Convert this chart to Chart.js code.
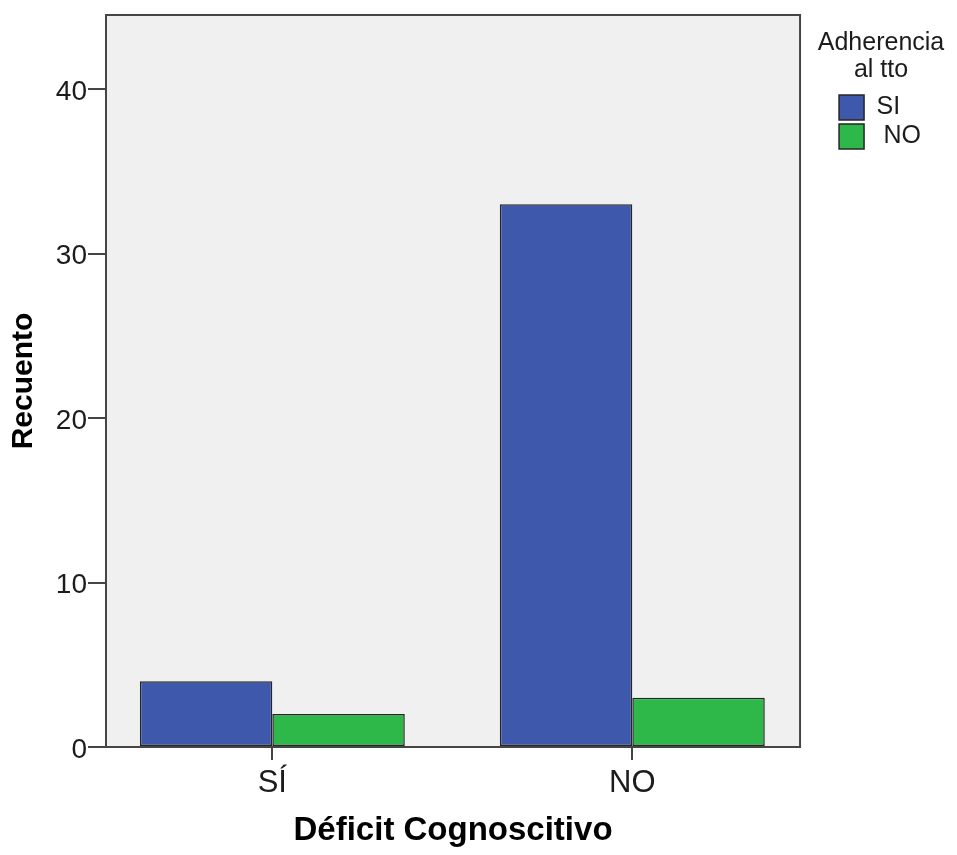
<!DOCTYPE html>
<html lang="es">
<head>
<meta charset="utf-8">
<title>Recuento por Déficit Cognoscitivo</title>
<script src="https://cdn.jsdelivr.net/npm/chart.js@4.4.1/dist/chart.umd.min.js"></script>
<style>
  html, body { margin: 0; padding: 0; background: #fff; }
  #wrap { width: 957px; height: 855px; }
</style>
</head>
<body>
<div id="wrap"><canvas id="grafico" width="957" height="855"></canvas></div>
<script>
// Categorías del eje X (Déficit Cognoscitivo)
const categorias = ['SÍ', 'NO'];
// Series (Adherencia al tto)
const tituloLeyenda = ['Adherencia', 'al tto'];
const nombresSeries = ['SI', ' NO'];
const recuentoAdhSI = [4, 33];
const recuentoAdhNO = [2, 3];
// Marcas del eje Y
const ticksY = [0, 10, 20, 30, 40];

const fuente = "'Liberation Sans', Arial, sans-serif";
const colorTexto = '#1c1c1c';
const colorEje = '#454545';

// Fondo gris del área de trazado, marco y título de la leyenda
// (el título se dibuja aparte porque la leyenda recorta lo que sale de su caja)
const marcoPlugin = {
    id: 'marco',
    beforeDraw(chart) {
        const { ctx, chartArea: a } = chart;
        ctx.save();
        ctx.fillStyle = '#f0f0f0';
        ctx.fillRect(a.left, a.top, a.right - a.left, a.bottom - a.top);
        ctx.restore();
    },
    afterDatasetsDraw(chart) {
        const { ctx, chartArea: a } = chart;
        ctx.save();
        ctx.strokeStyle = colorEje;
        ctx.lineWidth = 2;
        ctx.strokeRect(a.left, a.top, a.right - a.left, a.bottom - a.top);
        ctx.restore();
    },
    afterDraw(chart) {
        const { ctx, legend } = chart;
        const cx = legend.left + legend.width / 2 - 2;
        ctx.save();
        ctx.fillStyle = colorTexto;
        ctx.font = '25px ' + fuente;
        ctx.textAlign = 'center';
        ctx.textBaseline = 'middle';
        tituloLeyenda.forEach((t, i) => ctx.fillText(t, cx, 43 + i * 27));
        ctx.restore();
    }
};

const aPuntos = valores => valores.map((v, i) => ({ x: i, y: v }));

new Chart(document.getElementById('grafico'), {
    type: 'bar',
    data: {
        datasets: [
            {
                label: nombresSeries[0],
                data: aPuntos(recuentoAdhSI),
                backgroundColor: '#3e58ac',
                borderColor: '#262626',
                borderWidth: 1.5,
                borderSkipped: false,
                yAxisID: 'y'
            },
            {
                label: nombresSeries[1],
                data: aPuntos(recuentoAdhNO),
                backgroundColor: '#2eb84a',
                borderColor: '#262626',
                borderWidth: 1.5,
                borderSkipped: false,
                yAxisID: 'y'
            }
        ]
    },
    options: {
        responsive: false,
        animation: false,
        devicePixelRatio: 1,
        categoryPercentage: 0.736,
        barPercentage: 1,
        layout: { padding: { top: 15, right: 26, bottom: 0, left: 0 } },
        plugins: {
            tooltip: { enabled: false },
            legend: {
                position: 'right',
                align: 'start',
                title: {
                    // solo reserva el hueco; el texto lo pone el plugin
                    display: true,
                    text: '',
                    font: { family: fuente, size: 25, lineHeight: 1.12 },
                    padding: { top: 15, bottom: 33 }
                },
                labels: {
                    color: colorTexto,
                    font: { family: fuente, size: 25 },
                    boxWidth: 25,
                    boxHeight: 25,
                    padding: 4
                }
            }
        },
        scales: {
            x: {
                type: 'linear',
                min: -0.462,
                max: 1.466,
                offset: false,
                afterBuildTicks: s => { s.ticks = categorias.map((c, i) => ({ value: i })); },
                afterFit: s => { s.height = 108; s.paddingLeft = 0; s.paddingRight = 0; },
                border: { display: false },
                grid: {
                    offset: false,
                    drawOnChartArea: false,
                    drawTicks: true,
                    tickLength: 13,
                    color: colorEje,
                    lineWidth: 2
                },
                ticks: {
                    includeBounds: false,
                    autoSkip: false,
                    maxRotation: 0,
                    padding: 5,
                    color: colorTexto,
                    font: { family: fuente, size: 31 },
                    callback: v => categorias[v]
                },
                title: {
                    display: true,
                    text: 'Déficit Cognoscitivo',
                    color: '#000',
                    font: { family: fuente, size: 33, weight: 'bold' },
                    padding: { top: 0, bottom: 4 }
                }
            },
            y: {
                position: 'left',
                min: 0,
                max: 44.5,
                afterBuildTicks: s => { s.ticks = ticksY.map(v => ({ value: v })); },
                afterFit: s => { s.width = 106; s.paddingTop = 0; s.paddingBottom = 0; },
                border: { display: false },
                grid: {
                    drawOnChartArea: false,
                    drawTicks: true,
                    tickLength: 18,
                    color: colorEje,
                    lineWidth: 2
                },
                ticks: {
                    includeBounds: false,
                    padding: 1,
                    labelOffset: 3,
                    color: colorTexto,
                    font: { family: fuente, size: 28 }
                },
                title: {
                    display: true,
                    text: 'Recuento',
                    color: '#000',
                    font: { family: fuente, size: 30, weight: 'bold' },
                    padding: { top: 6, bottom: 0 }
                }
            },
            // separación entre el área de trazado y la leyenda
            espacio: {
                type: 'linear',
                position: 'right',
                display: true,
                afterFit: s => { s.width = 35; s.paddingTop = 0; s.paddingBottom = 0; },
                border: { display: false },
                grid: { display: false, drawTicks: false },
                ticks: { display: false }
            }
        }
    },
    plugins: [marcoPlugin]
});
</script>
</body>
</html>
